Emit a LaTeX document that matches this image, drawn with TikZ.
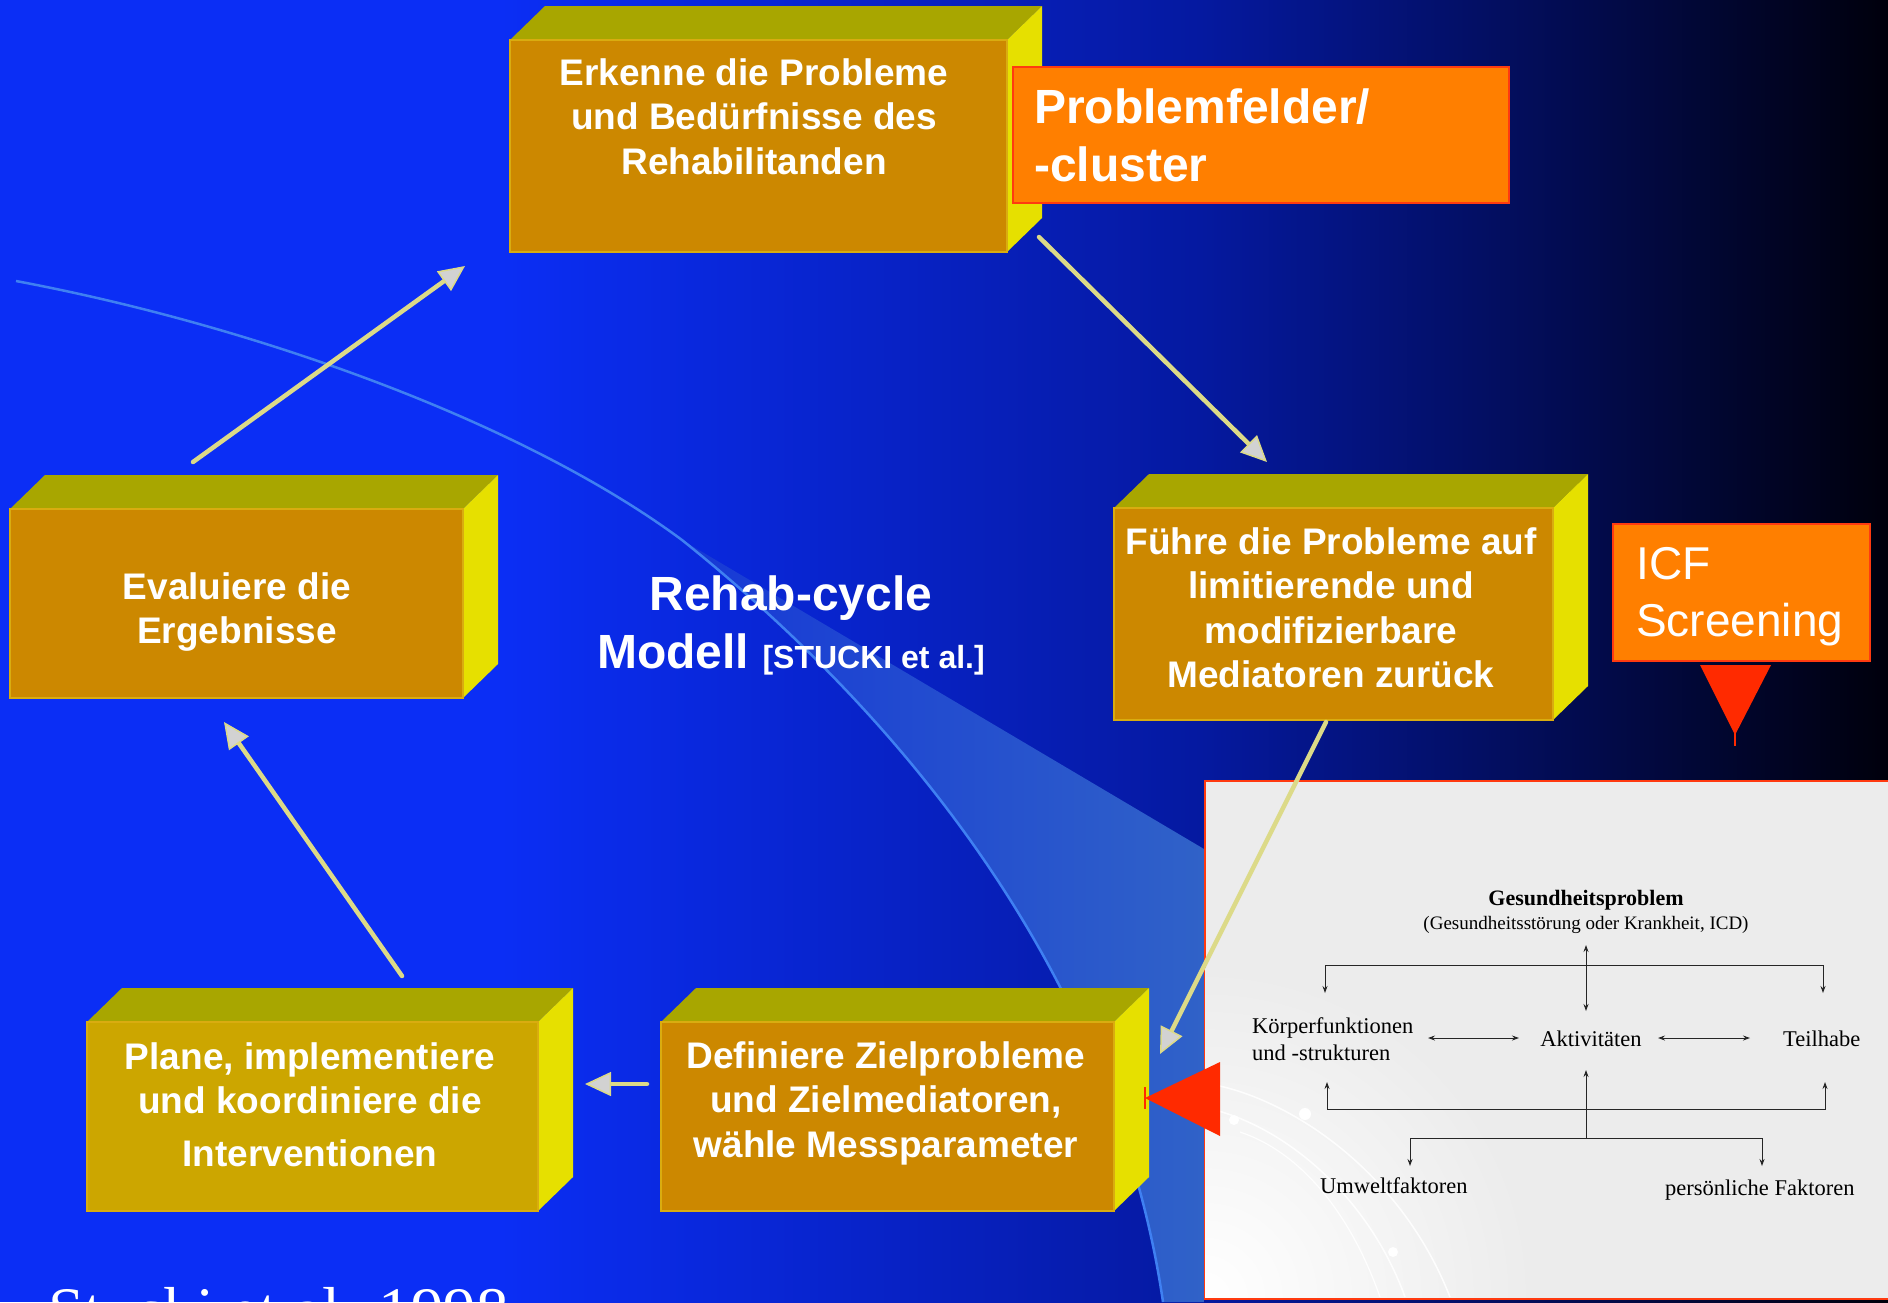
\documentclass[tikz,border=0pt]{standalone}
\usepackage{fontspec}
\setmainfont{Liberation Sans}
\newfontfamily\icfserif{Liberation Serif}
\usetikzlibrary{arrows.meta}
\definecolor{bgblue}{HTML}{0B2EF5}
\definecolor{bgmid}{HTML}{0519A0}
\definecolor{bgdark}{HTML}{00000C}
\definecolor{wedgeL}{HTML}{1638D6}
\definecolor{wedgeR}{HTML}{3062C8}
\definecolor{arcblue}{HTML}{3F80F2}
\definecolor{frontor}{HTML}{CC8800}
\definecolor{frontgold}{HTML}{CCA600}
\definecolor{frontedge}{HTML}{D9AC10}
\definecolor{topolive}{HTML}{A8A600}
\definecolor{sideyel}{HTML}{E6E000}
\definecolor{orangebox}{HTML}{FF7F00}
\definecolor{redline}{HTML}{FF3A10}
\definecolor{redtri}{HTML}{FF2A00}
\definecolor{icfgray}{HTML}{ECECEC}
\definecolor{flowyel}{HTML}{DCDA88}
\definecolor{flowgray}{HTML}{D2D2D2}
\newcommand\tstrut{\rule{0pt}{0.95em}}
\newcommand\cubebox[6]{%
  \fill[topolive] (#2,#3) -- (#2+35,#3-34) -- (#4+35,#3-34) -- (#4,#3) -- cycle;
  \fill[sideyel] (#4,#3) -- (#4+35,#3-34) -- (#4+35,#5-34) -- (#4,#5) -- cycle;
  \node[frontface, fill=#6, minimum width={#4pt-#2pt}, minimum height={#5pt-#3pt}, anchor=north west] (#1) at (#2,#3) {};
}
\tikzset{
  frontface/.style={draw=frontedge, line width=1.5pt, inner sep=0pt, outer sep=0pt},
  boxtext/.style={text=white, font=\fontsize{37}{44.5}\selectfont\bfseries, align=center, inner sep=0pt, anchor=north},
  flow/.style={draw=flowyel, line width=4.5pt, line cap=round, -{Triangle[length=26pt,width=24pt,fill=flowgray,line width=1.5pt]}},
  tag/.style={fill=orangebox, draw=redline, line width=2pt, inner sep=0pt, outer sep=0pt, anchor=north west},
  tagtext/.style={text=white, align=left, inner sep=0pt, anchor=north west},
  icf/.style={font=\icfserif\fontsize{22.5}{27}\selectfont, inner sep=0pt, text=black},
  icfarr/.style={line width=0.9pt, draw=black!85, {Stealth[length=7pt,width=5pt]}-{Stealth[length=7pt,width=5pt]}},
  icfone/.style={line width=0.9pt, draw=black!85, -{Stealth[length=7pt,width=5pt]}},
}
\begin{document}
\begin{tikzpicture}[x=1pt,y=-1pt]
\useasboundingbox (0,0) rectangle (1888,1302);
\clip (0,0) rectangle (1888,1302);
% background
\fill[bgblue] (0,0) rectangle (520,1302);
\shade[left color=bgblue, right color=bgmid] (500,0) rectangle (1201,1302);
\shade[left color=bgmid, right color=bgdark] (1200,0) rectangle (1888,1302);
% light wedge and arc
\shade[left color=wedgeL, right color=wedgeR] (682,540) -- (1204,849) -- (1204,1302) -- (1163,1302) .. controls (1119,1002) and (932,740) .. (682,540) -- cycle;
\draw[arcblue, line width=2.5pt] (16,281) .. controls (250,325) and (520,420) .. (682,540) .. controls (932,740) and (1119,1002) .. (1163,1302);
% cubes
\cubebox{erk}{510}{40}{1007}{252}{frontor}
\cubebox{eva}{10}{509}{463}{698}{frontor}
\cubebox{fuh}{1114}{508}{1553}{720}{frontor}
\cubebox{def}{661}{1022}{1114}{1211}{frontor}
\cubebox{pla}{87}{1022}{538}{1211}{frontgold}
% box texts
\node[boxtext] (erk-t) at (754,49.85) {\tstrut Erkenne die Probleme\\und Bedürfnisse des\\Rehabilitanden};
\node[boxtext] (eva-t) at (237,563.85) {\tstrut Evaluiere die\\Ergebnisse};
\node[boxtext] (fuh-t) at (1331,518.85) {\tstrut Führe die Probleme auf\\limitierende und\\modifizierbare\\Mediatoren zurück};
\node[boxtext] (def-t) at (886,1032.85) {\tstrut Definiere Zielprobleme\\und Zielmediatoren,\\wähle Messparameter};
\node[boxtext] (pla-t) at (310,1033.85) {\tstrut Plane, implementiere\\und koordiniere die\\[8pt]Interventionen};
% title
\node[text=white, font=\fontsize{48}{58}\selectfont\bfseries, align=center, inner sep=0pt, anchor=north] (title) at (791,564.4) {\tstrut Rehab-cycle\\Modell {\fontsize{32}{58}\selectfont[STUCKI et al.]}};
% orange tags
\node[tag, minimum width=496pt, minimum height=136pt] (prob) at (1013,67) {};
\node[tagtext, font=\fontsize{48}{58}\selectfont\bfseries] (prob-t) at (1034,77.4) {\tstrut Problemfelder/\\-cluster};
\node[tag, minimum width=257pt, minimum height=137pt] (icfs) at (1613,524) {};
\node[tagtext, font=\fontsize{46}{57}\selectfont] (icfs-t) at (1636,535.3) {\tstrut ICF\\Screening};
\fill[redtri] (1700,665) -- (1771,665) -- (1735,735) -- cycle;
\draw[redtri, line width=1.5pt] (1735,730) -- (1735,746);
% ICF image
\node[draw=redline, line width=2pt, fill=icfgray, minimum width=720pt, minimum height=518pt, anchor=north west, inner sep=0pt] (icfimg) at (1204,780) {};
\begin{scope}
  \clip (1205,781) rectangle (1887,1297);
  \shade[inner color=white, outer color=icfgray] (1204,1298) circle (330);
  \draw[white, line width=1.5pt, opacity=0.9] (1215,1085) .. controls (1290,1100) and (1400,1170) .. (1450,1297);
  \draw[white, line width=1.5pt, opacity=0.9] (1215,1110) .. controls (1290,1130) and (1370,1200) .. (1405,1297);
  \draw[white, line width=1.2pt, opacity=0.9] (1240,1132) .. controls (1300,1152) and (1350,1212) .. (1380,1297);
  \fill[white] (1234,1120) circle (5) (1305,1114) circle (6) (1393,1252) circle (5);
\end{scope}
\node[icf, font=\icfserif\bfseries\fontsize{22}{26}\selectfont, anchor=base] (gp) at (1586,905) {Gesundheitsproblem};
\node[icf, font=\icfserif\fontsize{19}{23}\selectfont, anchor=base] (gps) at (1586,929) {(Gesundheitsstörung oder Krankheit, ICD)};
\node[icf, anchor=north west, align=left] (kf) at (1252,1011.6) {\tstrut Körperfunktionen\\und -strukturen};
\node[icf, anchor=base] (akt) at (1591,1046) {Aktivitäten};
\node[icf, anchor=base west] (th) at (1783,1046) {Teilhabe};
\node[icf, anchor=base west] (uw) at (1320,1193) {Umweltfaktoren};
\node[icf, anchor=base west] (pf) at (1665,1195) {persönliche Faktoren};
\coordinate (v1) at (1586,945); \coordinate (v2) at (1586,1011);
\coordinate (tl) at (1325,993); \coordinate (tr) at (1823,993);
\coordinate (h1a) at (1428,1038); \coordinate (h1b) at (1519,1038);
\coordinate (h2a) at (1658,1038); \coordinate (h2b) at (1750,1038);
\coordinate (bl) at (1327,1082); \coordinate (br) at (1825,1082);
\coordinate (c1) at (1586,1138); \coordinate (c2) at (1586,1070);
\coordinate (ul) at (1410,1166); \coordinate (ur) at (1762,1166);
\draw[icfarr] (v1) -- (v2);
\draw[icfarr] (tl) -- ++(0,-28) -| (tr);
\draw[icfarr] (h1a) -- (h1b);
\draw[icfarr] (h2a) -- (h2b);
\draw[icfarr] (bl) -- ++(0,27) -| (br);
\draw[icfone] (c1) -- (c2);
\draw[icfarr] (ul) -- ++(0,-28) -| (ur);
% red pointer to Definiere box
\fill[redtri] (1145,1098) -- (1220,1062) -- (1220,1136) -- cycle;
\draw[redtri, line width=1.2pt] (1145,1087) -- (1145,1109);
% cycle arrows
\coordinate (f1s) at (193,462); \coordinate (f1e) at (465,266);
\coordinate (f2s) at (1039,237); \coordinate (f2e) at (1267,462);
\coordinate (f3s) at (1326,722); \coordinate (f3e) at (1160,1054);
\coordinate (f4s) at (647,1084); \coordinate (f4e) at (585,1084);
\coordinate (f5s) at (402,976); \coordinate (f5e) at (224,722);
\draw[flow] (f1s) -- (f1e);
\draw[flow] (f2s) -- (f2e);
\draw[flow] (f3s) -- (f3e);
\draw[flow] (f4s) -- (f4e);
\draw[flow] (f5s) -- (f5e);
% cut-off citation
\node[text=white, font=\icfserif\fontsize{65}{70}\selectfont, inner sep=0pt, anchor=base west] (stucki) at (48,1332) {Stucki et al. 1998};
\end{tikzpicture}
\end{document}
